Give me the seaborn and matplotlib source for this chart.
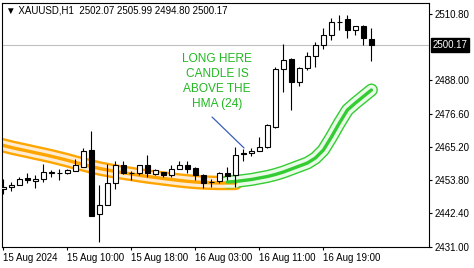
import numpy as np
import pandas as pd
import matplotlib
matplotlib.use("Agg")
import matplotlib.pyplot as plt
import matplotlib.transforms as mtransforms
import seaborn as sns

# ---------------- data ----------------
opens = [2450.74, 2451.42, 2452.11, 2454.51, 2453.48, 2454.17, 2456.40, 2456.23, 2456.23, 2456.92,
         2458.29, 2464.12, 2442.16, 2445.25, 2452.80, 2458.98, 2456.40, 2456.23, 2458.98, 2455.89,
         2456.57, 2455.54, 2457.60, 2458.98, 2457.95, 2455.54, 2453.14, 2453.48, 2456.23, 2455.54,
         2463.09, 2463.09, 2463.78, 2465.15, 2472.02, 2491.92, 2495.36, 2487.46, 2492.27, 2496.39,
         2500.16, 2503.59, 2508.05, 2509.08, 2505.31, 2506.68, 2502.07]
highs = [2454.17, 2453.14, 2454.86, 2456.23, 2455.54, 2459.32, 2457.26, 2457.60, 2457.60, 2461.04,
         2464.81, 2470.65, 2452.11, 2459.32, 2460.35, 2460.35, 2456.92, 2458.98, 2462.41, 2457.60,
         2456.57, 2458.98, 2460.35, 2460.35, 2458.29, 2455.89, 2454.17, 2456.57, 2458.29, 2465.15,
         2464.47, 2464.81, 2468.59, 2473.04, 2492.61, 2500.50, 2495.70, 2492.61, 2497.76, 2501.19,
         2506.00, 2509.43, 2510.46, 2510.46, 2506.68, 2507.02, 2505.99]
lows = [2449.02, 2450.05, 2452.11, 2452.80, 2451.08, 2453.14, 2454.86, 2453.83, 2455.89, 2456.92,
        2458.29, 2441.30, 2432.55, 2445.25, 2450.74, 2455.89, 2453.83, 2455.54, 2454.86, 2455.54,
        2454.86, 2454.86, 2457.60, 2456.23, 2453.83, 2451.08, 2451.42, 2452.80, 2453.83, 2451.42,
        2460.35, 2462.07, 2463.78, 2464.81, 2471.68, 2484.03, 2477.85, 2486.09, 2491.58, 2492.61,
        2498.79, 2501.88, 2505.31, 2502.56, 2503.59, 2500.30, 2494.80]
closes = [2451.42, 2452.11, 2454.17, 2453.83, 2454.17, 2456.57, 2456.57, 2456.23, 2457.26, 2458.98,
          2463.78, 2441.47, 2445.25, 2452.80, 2458.98, 2456.23, 2456.06, 2458.98, 2456.23, 2457.26,
          2455.54, 2457.60, 2458.98, 2457.60, 2455.54, 2452.80, 2453.00, 2456.23, 2455.20, 2462.41,
          2462.75, 2463.78, 2465.15, 2472.70, 2491.92, 2495.01, 2487.46, 2492.27, 2496.39, 2500.16,
          2503.59, 2508.05, 2508.05, 2505.31, 2506.68, 2502.56, 2500.17]

# HMA(24) falling segment (orange) and rising segment (green)
hma_down_idx = list(range(-1, 30))
hma_down = [2466.36, 2465.67, 2464.98, 2464.37, 2463.78, 2463.16, 2462.58, 2461.96, 2461.28, 2460.59,
            2459.83, 2459.15, 2458.46, 2457.78, 2457.26, 2456.75, 2456.30, 2455.89, 2455.44, 2455.03,
            2454.69, 2454.34, 2454.00, 2453.66, 2453.38, 2453.14, 2452.97, 2452.87, 2452.80, 2452.80,
            2452.80]
hma_up_idx = list(range(28, 47))
hma_up = [2453.14, 2453.31, 2453.66, 2454.00, 2454.52, 2455.03, 2455.72, 2456.57, 2457.60, 2458.63,
          2459.66, 2461.38, 2464.12, 2468.59, 2473.39, 2477.85, 2480.26, 2482.49, 2484.72]

xtick_pos = [0, 8, 16, 24, 32, 40]
xtick_labels = ["15 Aug 2024", "15 Aug 10:00", "15 Aug 18:00", "16 Aug 03:00", "16 Aug 11:00", "16 Aug 19:00"]
ytick_vals = [2431.00, 2442.40, 2453.80, 2465.20, 2476.60, 2488.00, 2510.80]
last_price = 2500.17
title_text = "\u25bc XAUUSD,H1  2502.07 2505.99 2494.80 2500.17"
note_text = "LONG HERE\nCANDLE IS\nABOVE THE\nHMA (24)"

# ---------------- style ----------------
sns.set_style("white")
plt.rcParams["font.family"] = ["Liberation Sans", "DejaVu Sans"]

fig = plt.figure(figsize=(4.74, 2.68), dpi=100)
ax = fig.add_axes([2.3 / 474, 1 - 247 / 268, (429 - 2.3) / 474, (247 - 3) / 268])

df = pd.DataFrame({"i": np.arange(len(opens)), "o": opens, "h": highs, "l": lows, "c": closes})
dn = pd.DataFrame({"i": hma_down_idx, "v": hma_down})
up = pd.DataFrame({"i": hma_up_idx, "v": hma_up})

# last price line
ax.axhline(last_price, color="#c0c0c0", lw=0.8, zorder=0.5)

# HMA bands (tube style)
for d, edge, fill, wo, wi, wc in [(dn, "#ffa500", "#ffecd2", 10.4, 7.0, 2.4),
                                  (up, "#33cc33", "#eafbe8", 9.4, 7.4, 2.4)]:
    sns.lineplot(data=d, x="i", y="v", color=edge, linewidth=wo, ax=ax,
                 solid_capstyle="round", solid_joinstyle="round", zorder=1)
    sns.lineplot(data=d, x="i", y="v", color=fill, linewidth=wi, ax=ax,
                 solid_capstyle="round", solid_joinstyle="round", zorder=1.1)
    sns.lineplot(data=d, x="i", y="v", color=edge, linewidth=wc, ax=ax,
                 solid_capstyle="round", solid_joinstyle="round", zorder=1.2)

# candles
ax.vlines(df["i"], df["l"], df["h"], color="black", lw=0.8, zorder=3)
bull = df["c"] >= df["o"]
body_bottom = np.minimum(df["o"], df["c"])
body_h = np.abs(df["c"] - df["o"])
ax.bar(df["i"][bull], body_h[bull], bottom=body_bottom[bull], width=0.6,
       color="white", edgecolor="black", linewidth=0.8, zorder=4)
ax.bar(df["i"][~bull], body_h[~bull], bottom=body_bottom[~bull], width=0.6,
       color="black", edgecolor="black", linewidth=0.8, zorder=4)

# annotation
ax.text(26.7, 2487.7, note_text, color="#22b822", fontsize=8.6, ha="center", va="center",
        linespacing=1.33, zorder=5)
ax.plot([26.08, 30.08], [2475.45, 2464.81], color="#3a5fb8", lw=0.9, zorder=5)

# title
ax.text(0.009, 0.971, title_text, transform=ax.transAxes, fontsize=7, ha="left", va="center",
        color="black", zorder=6)

# axes limits / ticks
ax.set_xlim(-0.14, 53.2)
ax.set_ylim(2430.83, 2514.58)
ax.set_xlabel("")
ax.set_ylabel("")
ax.yaxis.tick_right()
ax.set_yticks(ytick_vals)
ax.set_yticklabels([f"{v:.2f}" for v in ytick_vals])
ax.set_xticks(xtick_pos)
ax.set_xticklabels(xtick_labels, ha="left")
ax.tick_params(axis="both", direction="out", length=2.5, width=0.8, labelsize=7, colors="black")
ax.tick_params(axis="y", pad=1.5, right=True, left=False)
ax.tick_params(axis="x", pad=2, bottom=True)
for s in ax.spines.values():
    s.set_color("black")
    s.set_linewidth(0.8)
    s.set_visible(True)

# last price label
trans = mtransforms.blended_transform_factory(ax.transAxes, ax.transData)
ax.text(1.0 + 3.5 / 426.7, last_price, f"{last_price:.2f}", transform=trans, fontsize=7,
        color="white", ha="left", va="center", clip_on=False,
        bbox=dict(boxstyle="square,pad=0.2", fc="black", ec="black"))

fig.savefig("out.png", dpi=100)
